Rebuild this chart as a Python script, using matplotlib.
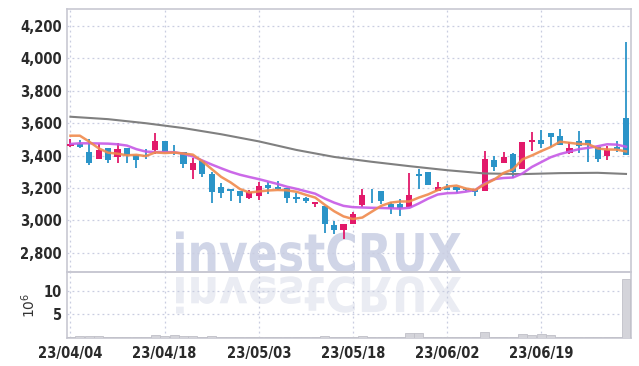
import matplotlib
matplotlib.use("Agg")
import matplotlib.pyplot as plt
from matplotlib.textpath import TextPath
from matplotlib.patches import PathPatch
from matplotlib.font_manager import FontProperties
from matplotlib.transforms import Affine2D

# trading days shown on the chart
dates = ["23/04/04", "23/04/05", "23/04/06", "23/04/07", "23/04/10", "23/04/11", "23/04/12", "23/04/13",
         "23/04/14", "23/04/17", "23/04/18", "23/04/19", "23/04/20", "23/04/21", "23/04/24", "23/04/25",
         "23/04/26", "23/04/27", "23/04/28", "23/05/02", "23/05/03", "23/05/04", "23/05/08", "23/05/09",
         "23/05/10", "23/05/11", "23/05/12", "23/05/15", "23/05/16", "23/05/17", "23/05/18", "23/05/19",
         "23/05/22", "23/05/23", "23/05/24", "23/05/25", "23/05/26", "23/05/30", "23/05/31", "23/06/01",
         "23/06/02", "23/06/05", "23/06/07", "23/06/08", "23/06/09", "23/06/12", "23/06/13", "23/06/14",
         "23/06/15", "23/06/16", "23/06/19", "23/06/20", "23/06/21", "23/06/22", "23/06/23", "23/06/26",
         "23/06/27", "23/06/28", "23/06/29", "23/06/30"]

opens = [3460, 3470, 3423, 3381, 3447, 3394, 3447, 3406, 3406, 3435,
         3490, 3424, 3423, 3312, 3367, 3289, 3207, 3194, 3182, 3141,
         3151, 3221, 3205, 3198, 3145, 3137, 3100, 3089, 2970, 2941,
         2978, 3096, 3158, 3180, 3102, 3102, 3081, 3287, 3299, 3180,
         3205, 3209, 3192, 3192, 3184, 3373, 3357, 3410, 3318, 3484,
         3497, 3538, 3521, 3418, 3490, 3497, 3451, 3400, 3451, 3634]
highs = [3503, 3497, 3501, 3472, 3447, 3476, 3447, 3406, 3439, 3538,
         3490, 3466, 3423, 3387, 3367, 3301, 3229, 3194, 3182, 3188,
         3236, 3240, 3246, 3198, 3172, 3147, 3114, 3089, 2999, 2976,
         3052, 3192, 3192, 3180, 3116, 3131, 3291, 3318, 3299, 3236,
         3225, 3209, 3198, 3192, 3429, 3398, 3421, 3418, 3482, 3544,
         3558, 3538, 3564, 3486, 3552, 3497, 3451, 3461, 3490, 4099]
lows = [3455, 3445, 3340, 3381, 3353, 3353, 3357, 3326, 3377, 3408,
        3420, 3404, 3322, 3254, 3266, 3110, 3141, 3122, 3106, 3134,
        3126, 3162, 3186, 3110, 3110, 3106, 3081, 2921, 2915, 2884,
        2978, 3081, 3106, 3102, 3040, 3028, 3081, 3192, 3221, 3180,
        3186, 3168, 3180, 3151, 3184, 3305, 3357, 3260, 3318, 3429,
        3449, 3455, 3466, 3410, 3414, 3359, 3359, 3373, 3421, 3406]
closes = [3470, 3455, 3357, 3435, 3373, 3441, 3402, 3373, 3396, 3490,
          3420, 3414, 3347, 3357, 3289, 3178, 3172, 3180, 3153, 3178,
          3213, 3202, 3194, 3141, 3135, 3120, 3114, 2976, 2941, 2976,
          3040, 3157, 3155, 3122, 3075, 3075, 3157, 3277, 3221, 3205,
          3186, 3188, 3185, 3178, 3379, 3332, 3392, 3301, 3482, 3497,
          3470, 3517, 3466, 3445, 3461, 3466, 3381, 3435, 3443, 3406]

# volume in millions
volumes = [0.1, 0.25, 0.25, 0.25, 0.2, 0.2, 0.1, 0.1, 0.15, 0.5,
           0.35, 0.5, 0.3, 0.25, 0.1, 0.3, 0.1, 0.1, 0.1, 0.1,
           0.1, 0.1, 0.1, 0.1, 0.1, 0.1, 0.1, 0.3, 0.1, 0.1,
           0.1, 0.3, 0.1, 0.1, 0.1, 0.1, 0.9, 0.9, 0.2, 0.15,
           0.15, 0.15, 0.15, 0.15, 1.1, 0.2, 0.2, 0.2, 0.7, 0.5,
           0.8, 0.5, 0.2, 0.15, 0.15, 0.15, 0.15, 0.15, 0.15, 12.6]

# moving averages
ma_short = [3523, 3523, 3486, 3445, 3418, 3412, 3402, 3405, 3397, 3420,
            3416, 3419, 3413, 3406, 3365, 3317, 3269, 3235, 3194, 3172,
            3179, 3185, 3188, 3186, 3177, 3158, 3141, 3097, 3057, 3025,
            3009, 3018, 3054, 3090, 3110, 3117, 3117, 3141, 3161, 3187,
            3209, 3215, 3197, 3188, 3223, 3252, 3293, 3316, 3377, 3401,
            3428, 3453, 3486, 3479, 3472, 3471, 3444, 3438, 3437, 3426]
ma_mid = [3472, 3476, 3476, 3475, 3474, 3470, 3462, 3440, 3425, 3422,
          3422, 3421, 3412, 3395, 3370, 3345, 3322, 3300, 3282, 3268,
          3255, 3240, 3225, 3208, 3195, 3180, 3165, 3135, 3110, 3090,
          3082, 3080, 3078, 3077, 3075, 3073, 3078, 3105, 3135, 3160,
          3168, 3170, 3178, 3188, 3230, 3255, 3262, 3265, 3290, 3330,
          3360, 3390, 3410, 3425, 3440, 3448, 3458, 3470, 3468, 3455]
ma_long_idx = [0, 4, 8, 12, 16, 20, 24, 28, 32, 36, 40, 44, 48, 52, 56, 59]
ma_long = [3640, 3625, 3600, 3570, 3532, 3488, 3435, 3392, 3362, 3335,
           3310, 3290, 3286, 3292, 3294, 3287]

price_ticks = [2800, 3000, 3200, 3400, 3600, 3800, 4000, 4200]
vol_ticks = [5, 10]

up_color = "#e2196a"
down_color = "#2b94c8"
grid_color = "#c9cde0"
spine_color = "#c8c8d2"
tick_font = FontProperties(family="DejaVu Sans", stretch="condensed", weight="bold", size=10.5)

W, H = 639, 366
fig = plt.figure(figsize=(W / 100, H / 100), dpi=100)

# watermark in pixel coordinates behind everything
wm = fig.add_axes([0, 0, 1, 1])
wm.set_xlim(0, W)
wm.set_ylim(H, 0)
wm.axis("off")
tp = TextPath((0, 0), "investCRUX", size=10, prop=FontProperties(family="DejaVu Sans", weight="bold"))
ext = tp.get_extents()
sx = 285 / ext.width
sy = 39 / 7.3
main_tr = Affine2D().translate(-ext.x0, 0).scale(sx, -sy).translate(176, 272)
refl_tr = Affine2D().translate(-ext.x0, 0).scale(sx, sy * 0.9).translate(176, 277)
wm.add_patch(PathPatch(main_tr.transform_path(tp), facecolor="#d0d5e7", edgecolor="none"))
wm.add_patch(PathPatch(refl_tr.transform_path(tp), facecolor="#eaecf3", edgecolor="none"))

left, right = 66.7 / W, 630.7 / W
ax = fig.add_axes([left, 1 - 272.3 / H, right - left, (272.3 - 9.3) / H])
axv = fig.add_axes([left, 1 - 337.5 / H, right - left, (337.5 - 272.3) / H], sharex=ax)
for a in (ax, axv):
    a.set_facecolor("none")
    for s in a.spines.values():
        s.set_color(spine_color)
        s.set_linewidth(1.2)
    a.grid(True, color=grid_color, linestyle=(0, (1.5, 2.5)), linewidth=0.9)
    a.set_axisbelow(True)
    a.tick_params(length=0, colors="#2a2a2a")

x = list(range(len(dates)))
body_bottom = [min(o, c) for o, c in zip(opens, closes)]
body_height = [max(abs(c - o), 4) for o, c in zip(opens, closes)]
colors = [up_color if c > o else down_color for o, c in zip(opens, closes)]

ax.vlines(x, lows, highs, colors=colors, linewidth=1.3, zorder=3)
ax.bar(x, body_height, bottom=body_bottom, width=0.65, color=colors, zorder=4)

ax.plot(ma_long_idx, ma_long, color="#808080", linewidth=1.5, zorder=5)
ax.plot(x, ma_mid, color="#c659e6", linewidth=1.8, alpha=0.9, zorder=5)
ax.plot(x, ma_short, color="#f08a4c", linewidth=1.8, alpha=0.9, zorder=6)

ax.set_xlim(-0.4, 59.5)
ax.set_ylim(2680, 4303)
ax.set_yticks(price_ticks)
ax.set_yticklabels([f"{v:,}" for v in price_ticks], fontproperties=tick_font)
plt.setp(ax.get_xticklabels(), visible=False)

axv.bar(x, volumes, width=0.95, color="#d4d4da", edgecolor="#c0c0c8", linewidth=0.6, zorder=3)
axv.set_ylim(0, 14)
axv.set_yticks(vol_ticks)
axv.set_yticklabels([str(v) for v in vol_ticks], fontproperties=tick_font)
axv.set_xticks(x[::10])
axv.set_xticklabels(dates[::10], fontproperties=tick_font)
axv.tick_params(axis="x", pad=6)
axv.set_ylabel("$10^6$", color="#333333", fontsize=10, labelpad=4)

fig.savefig("out.png", dpi=100)
